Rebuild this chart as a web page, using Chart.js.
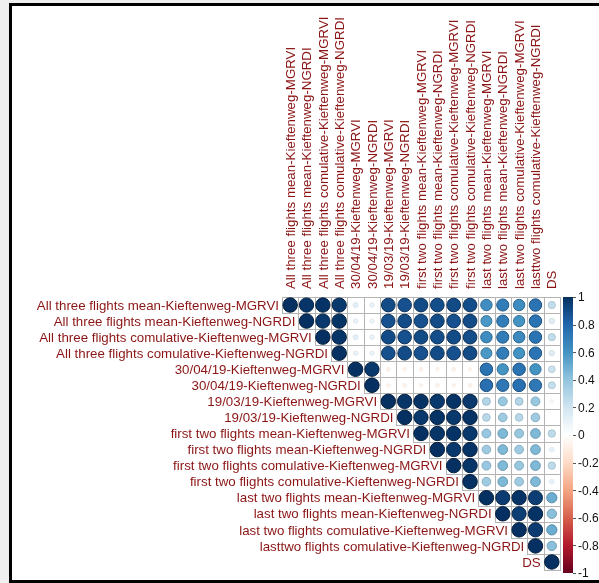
<!DOCTYPE html>
<html>
<head>
<meta charset="utf-8">
<script src="https://cdn.jsdelivr.net/npm/chart.js@4.4.1/dist/chart.umd.min.js"></script>
<style>
  body { margin: 0; background: #efefef; width: 599px; height: 583px; overflow: hidden; position: relative; }
  #frame { position: absolute; left: 9px; top: 3px; width: 640px; height: 580px; box-sizing: border-box; border: 3px solid #000; background: #fff; }
  #corr { position: absolute; left: 0; top: 0; }
</style>
</head>
<body>
<div id="frame"></div>
<canvas id="corr" width="599" height="583"></canvas>
<script>
// variable names, same order for rows and columns
var varNames = [
  "All three flights mean-Kieftenweg-MGRVI",
  "All three flights mean-Kieftenweg-NGRDI",
  "All three flights comulative-Kieftenweg-MGRVI",
  "All three flights comulative-Kieftenweg-NGRDI",
  "30/04/19-Kieftenweg-MGRVI",
  "30/04/19-Kieftenweg-NGRDI",
  "19/03/19-Kieftenweg-MGRVI",
  "19/03/19-Kieftenweg-NGRDI",
  "first two flights mean-Kieftenweg-MGRVI",
  "first two flights mean-Kieftenweg-NGRDI",
  "first two flights comulative-Kieftenweg-MGRVI",
  "first two flights comulative-Kieftenweg-NGRDI",
  "last two flights mean-Kieftenweg-MGRVI",
  "last two flights mean-Kieftenweg-NGRDI",
  "last two flights comulative-Kieftenweg-MGRVI",
  "lasttwo flights comulative-Kieftenweg-NGRDI",
  "DS"
];

// upper triangle, each row starts at its diagonal cell
var corrRows = [
  [1, 0.98, 0.99, 0.97, 0.12, 0.10, 0.90, 0.88, 0.90, 0.89, 0.90, 0.89, 0.62, 0.70, 0.63, 0.74, 0.25],
  [1, 0.97, 0.99, 0.10, 0.09, 0.88, 0.90, 0.88, 0.90, 0.88, 0.90, 0.58, 0.70, 0.60, 0.74, 0.14],
  [1, 0.98, 0.12, 0.10, 0.90, 0.88, 0.90, 0.89, 0.90, 0.89, 0.63, 0.70, 0.64, 0.74, 0.25],
  [1, 0.10, 0.09, 0.88, 0.90, 0.88, 0.90, 0.88, 0.90, 0.58, 0.70, 0.60, 0.74, 0.14],
  [1, 0.97, -0.07, -0.06, -0.07, -0.06, -0.07, -0.06, 0.74, 0.60, 0.74, 0.60, 0.22],
  [1, -0.06, -0.07, -0.06, -0.07, -0.06, -0.07, 0.76, 0.72, 0.76, 0.72, 0.24],
  [1, 0.98, 0.99, 0.97, 0.99, 0.97, 0.30, 0.38, 0.30, 0.38, 0.06],
  [1, 0.97, 0.99, 0.97, 0.99, 0.28, 0.36, 0.28, 0.36, 0.00],
  [1, 0.98, 0.99, 0.97, 0.38, 0.45, 0.38, 0.45, 0.26],
  [1, 0.97, 0.99, 0.36, 0.45, 0.36, 0.45, 0.10],
  [1, 0.98, 0.38, 0.45, 0.38, 0.45, 0.26],
  [1, 0.36, 0.45, 0.36, 0.45, 0.10],
  [1, 0.96, 0.99, 0.95, 0.50],
  [1, 0.95, 0.99, 0.42],
  [1, 0.96, 0.50],
  [1, 0.42],
  [1]
];

var legendTicks = ["1", "0.8", "0.6", "0.4", "0.2", "0", "-0.2", "-0.4", "-0.6", "-0.8", "-1"];

// RdBu ramp from -1 to 1
var palette = ["#67001F", "#B2182B", "#D6604D", "#F4A582", "#FDDBC7", "#FFFFFF",
               "#D1E5F0", "#92C5DE", "#4393C3", "#2166AC", "#053061"];

function hexToRgb(h) {
  return [parseInt(h.substr(1, 2), 16), parseInt(h.substr(3, 2), 16), parseInt(h.substr(5, 2), 16)];
}

// k < 1 darkens the colour (used for the circle rims)
function valueColor(v, k) {
  var t = (v + 1) / 2 * (palette.length - 1);
  var i = Math.min(Math.floor(t), palette.length - 2);
  var f = t - i;
  var a = hexToRgb(palette[i]), b = hexToRgb(palette[i + 1]);
  var c = a.map(function (x, n) { return Math.round((x + (b[n] - x) * f) * k); });
  return "rgb(" + c.join(",") + ")";
}

var points = [];
corrRows.forEach(function (row, i) {
  row.forEach(function (v, k) {
    points.push({ x: i + k, y: i, v: v });
  });
});

var labelFont = '13.3px "Liberation Sans", Arial, sans-serif';
var labelColor = "#8b1414";

function cellRadius(ctx) {
  var p = ctx.raw;
  if (!p) return 0;
  var xs = ctx.chart.scales.x, ys = ctx.chart.scales.y;
  if (!xs || !ys) return 0;
  var cw = Math.abs(xs.getPixelForValue(1) - xs.getPixelForValue(0));
  var ch = Math.abs(ys.getPixelForValue(1) - ys.getPixelForValue(0));
  return 0.45 * Math.min(cw, ch) * Math.sqrt(Math.abs(p.v));
}

// grey cell outlines under the circles
var gridPlugin = {
  id: "cellGrid",
  beforeDatasetsDraw: function (chart) {
    var c = chart.ctx, xs = chart.scales.x, ys = chart.scales.y;
    c.save();
    c.strokeStyle = "#b4b4b4";
    c.lineWidth = 1;
    for (var i = 0; i < varNames.length; i++) {
      for (var j = i; j < varNames.length; j++) {
        var x0 = Math.round(xs.getPixelForValue(j - 0.5)) + 0.5;
        var x1 = Math.round(xs.getPixelForValue(j + 0.5)) + 0.5;
        var y0 = Math.round(ys.getPixelForValue(i - 0.5)) + 0.5;
        var y1 = Math.round(ys.getPixelForValue(i + 0.5)) + 0.5;
        c.strokeRect(x0, y0, x1 - x0, y1 - y0);
      }
    }
    c.restore();
  }
};

// row / column names and the colour legend
var labelPlugin = {
  id: "corrLabels",
  afterDraw: function (chart) {
    var c = chart.ctx, xs = chart.scales.x, ys = chart.scales.y;
    c.save();
    c.font = labelFont;
    c.fillStyle = labelColor;
    c.textBaseline = "middle";
    varNames.forEach(function (name, i) {
      c.textAlign = "right";
      c.fillText(name, xs.getPixelForValue(i - 0.5) - 3, ys.getPixelForValue(i) + 1);
      c.save();
      c.translate(xs.getPixelForValue(i) + 1, ys.getPixelForValue(-0.5) - 8);
      c.rotate(-Math.PI / 2);
      c.textAlign = "left";
      c.fillText(name, 0, 0);
      c.restore();
    });

    var a = chart.chartArea;
    var bx = a.right + 3, bw = 10, top = a.top, bot = a.bottom + 3;
    var g = c.createLinearGradient(0, top, 0, bot);
    palette.forEach(function (col, n) {
      g.addColorStop(1 - n / (palette.length - 1), col);
    });
    c.fillStyle = g;
    c.fillRect(bx, top, bw, bot - top);
    c.strokeStyle = "#555";
    c.lineWidth = 1;
    c.font = '12px "Liberation Sans", Arial, sans-serif';
    c.fillStyle = "#111";
    c.textAlign = "left";
    legendTicks.forEach(function (t, n) {
      var y = top + (bot - top) * n / (legendTicks.length - 1);
      c.beginPath();
      c.moveTo(bx + bw, Math.round(y) + 0.5);
      c.lineTo(bx + bw + 3, Math.round(y) + 0.5);
      c.stroke();
      c.fillText(t, bx + bw + 5, y + 1);
    });
    c.restore();
  }
};

var chart = new Chart(document.getElementById("corr"), {
  type: "scatter",
  data: {
    datasets: [{
      data: points,
      pointRadius: cellRadius,
      pointHoverRadius: cellRadius,
      backgroundColor: function (ctx) { return ctx.raw ? valueColor(ctx.raw.v, 1) : "#fff"; },
      borderColor: function (ctx) {
        return ctx.raw ? valueColor(ctx.raw.v, 1 - 0.4 * Math.abs(ctx.raw.v)) : "#fff";
      },
      borderWidth: 1
    }]
  },
  options: {
    responsive: false,
    animation: false,
    events: [],
    layout: { padding: { left: 282, top: 297, right: 39, bottom: 13 } },
    scales: {
      x: { type: "linear", min: -0.5, max: 16.5, display: false },
      y: { type: "linear", min: -0.5, max: 16.5, reverse: true, display: false }
    },
    plugins: { legend: { display: false }, tooltip: { enabled: false } }
  },
  plugins: [gridPlugin, labelPlugin]
});
</script>
</body>
</html>
